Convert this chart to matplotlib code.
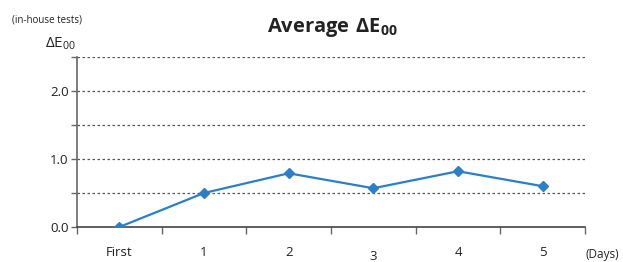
import matplotlib.pyplot as plt
import numpy as np

plt.rcParams['font.family'] = ['Open Sans', 'DejaVu Sans']
plt.rcParams['mathtext.fontset'] = 'custom'
plt.rcParams['mathtext.rm'] = 'Open Sans'
plt.rcParams['mathtext.bf'] = 'Open Sans:bold'

days = ["First", "1", "2", "3", "4", "5"]
avg_de = [0.0, 0.50, 0.79, 0.57, 0.82, 0.60]
ytick_vals = [0.0, 0.5, 1.0, 1.5, 2.0, 2.5]
ytick_labels = ["0.0", "", "1.0", "", "2.0", ""]

fig = plt.figure(figsize=(6.23, 2.62), dpi=100)
ax = fig.add_axes([0.1236, 0.1336, 0.8154, 0.6488])

x = np.arange(len(days))
ax.plot(x, avg_de, color="#2b7fc9", lw=1.6, marker="D", ms=5, zorder=3)

ax.set_xlim(-0.5, len(days) - 0.5)
ax.set_ylim(0, 2.5)

# ticks between categories, labels at centres
ax.set_xticks(np.arange(-0.5, len(days), 1.0))
ax.set_xticklabels([])
ax.set_xticks(x, minor=True)
ax.set_xticklabels(days, minor=True)
ax.tick_params(axis="x", which="minor", length=0, pad=14, labelsize=9.5, colors="#222")
ax.tick_params(axis="x", which="major", direction="out", length=5, color="#666", width=1)
for lbl in ax.get_xticklabels(minor=True):
    if lbl.get_text() == "3":
        lbl.set_y(-0.02)

ax.set_yticks(ytick_vals)
ax.set_yticklabels(ytick_labels)
ax.tick_params(axis="y", direction="out", length=4, color="#666", width=1, labelsize=9.5, colors="#222", pad=2)

for v in ytick_vals[1:]:
    ax.axhline(v, color="#555", lw=0.9, ls=(0, (2, 2)), zorder=1)

ax.spines["top"].set_visible(False)
ax.spines["right"].set_visible(False)
ax.spines["left"].set_color("#666")
ax.spines["bottom"].set_color("#444")
ax.spines["left"].set_linewidth(1.2)
ax.spines["bottom"].set_linewidth(1.2)

fig.text(0.533, 0.895, r"$\mathbf{Average\ \Delta E_{00}}$", ha="center", va="center",
         fontsize=14.5, color="#222")
fig.text(0.019, 0.925, "(in-house tests)", fontsize=7, color="#222", va="center")
fig.text(0.072, 0.835, r"$\Delta$E$_{\mathregular{00}}$", fontsize=11, color="#222", va="center")
fig.text(0.94, 0.03, "(Days)", fontsize=8.5, color="#222", va="center")

fig.savefig("out.png", dpi=100)
